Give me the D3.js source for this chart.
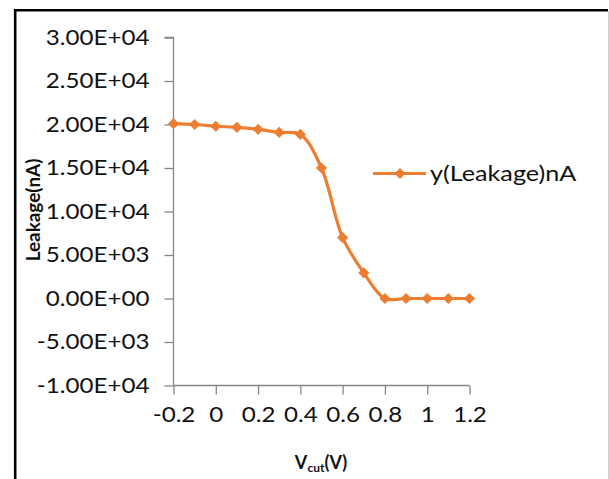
<!DOCTYPE html>
<html><head><meta charset="utf-8">
<script src="https://cdn.jsdelivr.net/npm/d3@7"></script>
<style>body{margin:0;background:#fff;} svg{display:block;} text{font-family:Lato, "Liberation Sans", sans-serif;}</style>
</head><body>
<svg id="c" width="609" height="479"></svg>
<script>
const xValues = [-0.2, -0.1, 0, 0.1, 0.2, 0.3, 0.4, 0.5, 0.6, 0.7, 0.8, 0.9, 1.0, 1.1, 1.2];
const leakage = [20100, 20000, 19800, 19670, 19440, 19090, 18860, 15000, 7000, 2950, 0, 0, 0, 0, 0];
const xTicks = [-0.2, 0, 0.2, 0.4, 0.6, 0.8, 1, 1.2];
const yTicks = [-10000, -5000, 0, 5000, 10000, 15000, 20000, 25000, 30000];
const seriesName = "y(Leakage)nA";
const color = "#ED7D31";

const svg = d3.select("#c");
function stretch(sel, f) {
  sel.each(function() {
    const w = this.getComputedTextLength();
    d3.select(this).attr("textLength", w * f).attr("lengthAdjust", "spacingAndGlyphs");
  });
}
// frame
svg.append("path").attr("d","M15.2,479 V10.2 H608").attr("fill","none").attr("stroke","#000").attr("stroke-width",2.6);
svg.append("line").attr("x1",608.5).attr("x2",608.5).attr("y1",11).attr("y2",479).attr("stroke","#d0d0d0").attr("stroke-width",1);

const x = d3.scaleLinear().domain([-0.2, 1.2]).range([173.5, 469.5]);
const y = d3.scaleLinear().domain([-10000, 30000]).range([385.5, 37.5]);

const fmt = v => {
  if (v === 0) return "0.00E+00";
  const e = Math.floor(Math.log10(Math.abs(v)));
  const m = v / Math.pow(10, e);
  return m.toFixed(2) + "E+" + String(e).padStart(2, "0");
};

const axisColor = "#868686";
const yAxis = svg.append("g").attr("transform","translate(173.5,0)")
  .call(d3.axisLeft(y).tickValues(yTicks).tickSize(9).tickPadding(15).tickFormat(fmt));
const xAxis = svg.append("g").attr("transform","translate(0,385.5)")
  .call(d3.axisBottom(x).tickValues(xTicks).tickSize(9).tickPadding(13).tickFormat(d => String(d)));
[yAxis, xAxis].forEach(g => {
  g.select(".domain").attr("stroke", axisColor).attr("stroke-width", 1.3);
  g.selectAll(".tick line").attr("stroke", axisColor).attr("stroke-width", 1.3);
  g.selectAll(".tick text").attr("fill", "#111").attr("font-size", 21).attr("font-family","Lato");
  stretch(g.selectAll(".tick text"), 1.15);
});
xAxis.select(".domain").attr("d", `M${x(-0.2)},0H${x(1.2)}`);
yAxis.select(".domain").attr("d", `M-9,${y(30000)}H0V${y(-10000)}`);

// line
const line = d3.line().x((d,i) => x(xValues[i])).y(d => y(d)).curve(d3.curveCatmullRom.alpha(0.5));
svg.append("path").datum(leakage).attr("d", line).attr("fill","none").attr("stroke", color).attr("stroke-width", 3.2);

const diamond = d3.symbol(d3.symbolSquare, 62);
svg.selectAll(".pt").data(leakage).join("path").attr("class","pt")
  .attr("d", diamond)
  .attr("transform", (d,i) => `translate(${x(xValues[i])},${y(d)}) rotate(45)`)
  .attr("fill", color);

// legend
svg.append("line").attr("x1",373).attr("x2",426).attr("y1",173.5).attr("y2",173.5).attr("stroke",color).attr("stroke-width",3.2);
svg.append("path").attr("d", diamond).attr("transform","translate(400,173.5) rotate(45)").attr("fill",color);
const lt = svg.append("text").attr("x",430).attr("y",181).attr("font-size",21).attr("fill","#111").text(seriesName);
stretch(lt, 1.2);

// axis titles
const yt = svg.append("text").attr("transform","translate(40,210) rotate(-90)").attr("text-anchor","middle")
  .attr("font-size",18).attr("font-weight","bold").attr("fill","#111").text("Leakage(nA)");
stretch(yt, 1.05);
const xt = svg.append("text").attr("x",321).attr("y",469).attr("text-anchor","middle")
  .attr("font-size",18).attr("font-weight","bold").attr("fill","#111");
xt.append("tspan").text("V");
xt.append("tspan").attr("font-size",12).attr("dy",3).text("cut");
xt.append("tspan").attr("dy",-3).text("(V)");
</script>
</body></html>
